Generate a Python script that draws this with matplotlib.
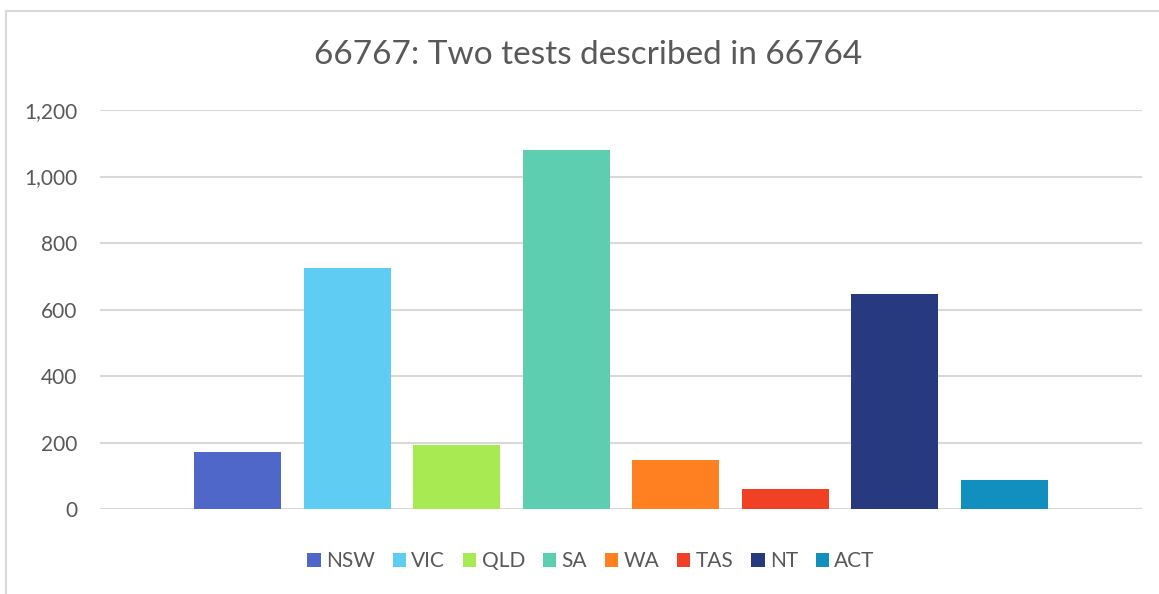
import matplotlib
matplotlib.use("Agg")
import matplotlib.pyplot as plt
from matplotlib.lines import Line2D
from matplotlib.patches import Patch
import numpy as np

# datos
estados = ["NSW", "VIC", "QLD", "SA", "WA", "TAS", "NT", "ACT"]
valores = [172, 725, 193, 1080, 148, 61, 647, 88]
colores = ["#4E67C8", "#5ECCF3", "#A7EA52", "#5DCEAF", "#FF8021", "#F14124", "#283A7F", "#118FBE"]
yticks = [0, 200, 400, 600, 800, 1000, 1200]

plt.rcParams["font.family"] = ["Lato", "DejaVu Sans"]
gris = "#595959"

fig = plt.figure(figsize=(11.59, 5.94), dpi=100)
W, H = 1159, 594
ax = fig.add_axes([100 / W, 1 - 509.3 / H, (1142 - 100) / W, (509.3 - 110) / H])

x = np.arange(len(estados))
ancho = 87 / 109.6
ax.bar(x, valores, width=ancho, color=colores, zorder=3)

ax.set_xlim(-1.2545, len(estados) - 1 + 1.2545)
ax.set_ylim(0, 1200)
ax.set_yticks(yticks)
ax.set_yticklabels([f"{v:,}" for v in yticks], color=gris, fontsize=15)
ax.set_xticks([])
ax.tick_params(axis="y", length=0, pad=16.5)
ax.grid(axis="y", color="#D9D9D9", linewidth=1.5, zorder=0)
for s in ax.spines.values():
    s.set_visible(False)

fig.text(588 / W, 1 - 55 / H, "66767: Two tests described in 66764",
         ha="center", va="center", fontsize=24, color=gris)

# leyenda
handles = [Patch(facecolor=c, edgecolor="none") for c in colores]
fig.legend(handles, estados, loc="center", bbox_to_anchor=(591 / W, 1 - 561 / H),
           ncol=len(estados), frameon=False, fontsize=15, labelcolor=gris,
           handlelength=0.65, handleheight=0.65, handletextpad=0.25, columnspacing=0.85)

# borde del gráfico
fig.add_artist(Line2D([6 / W, 6 / W], [0, 1 - 10.5 / H], transform=fig.transFigure,
                      color="#D9D9D9", linewidth=1.5))
fig.add_artist(Line2D([6 / W, 1], [1 - 10.5 / H, 1 - 10.5 / H], transform=fig.transFigure,
                      color="#D9D9D9", linewidth=1.5))

fig.savefig("out.png", dpi=100)
